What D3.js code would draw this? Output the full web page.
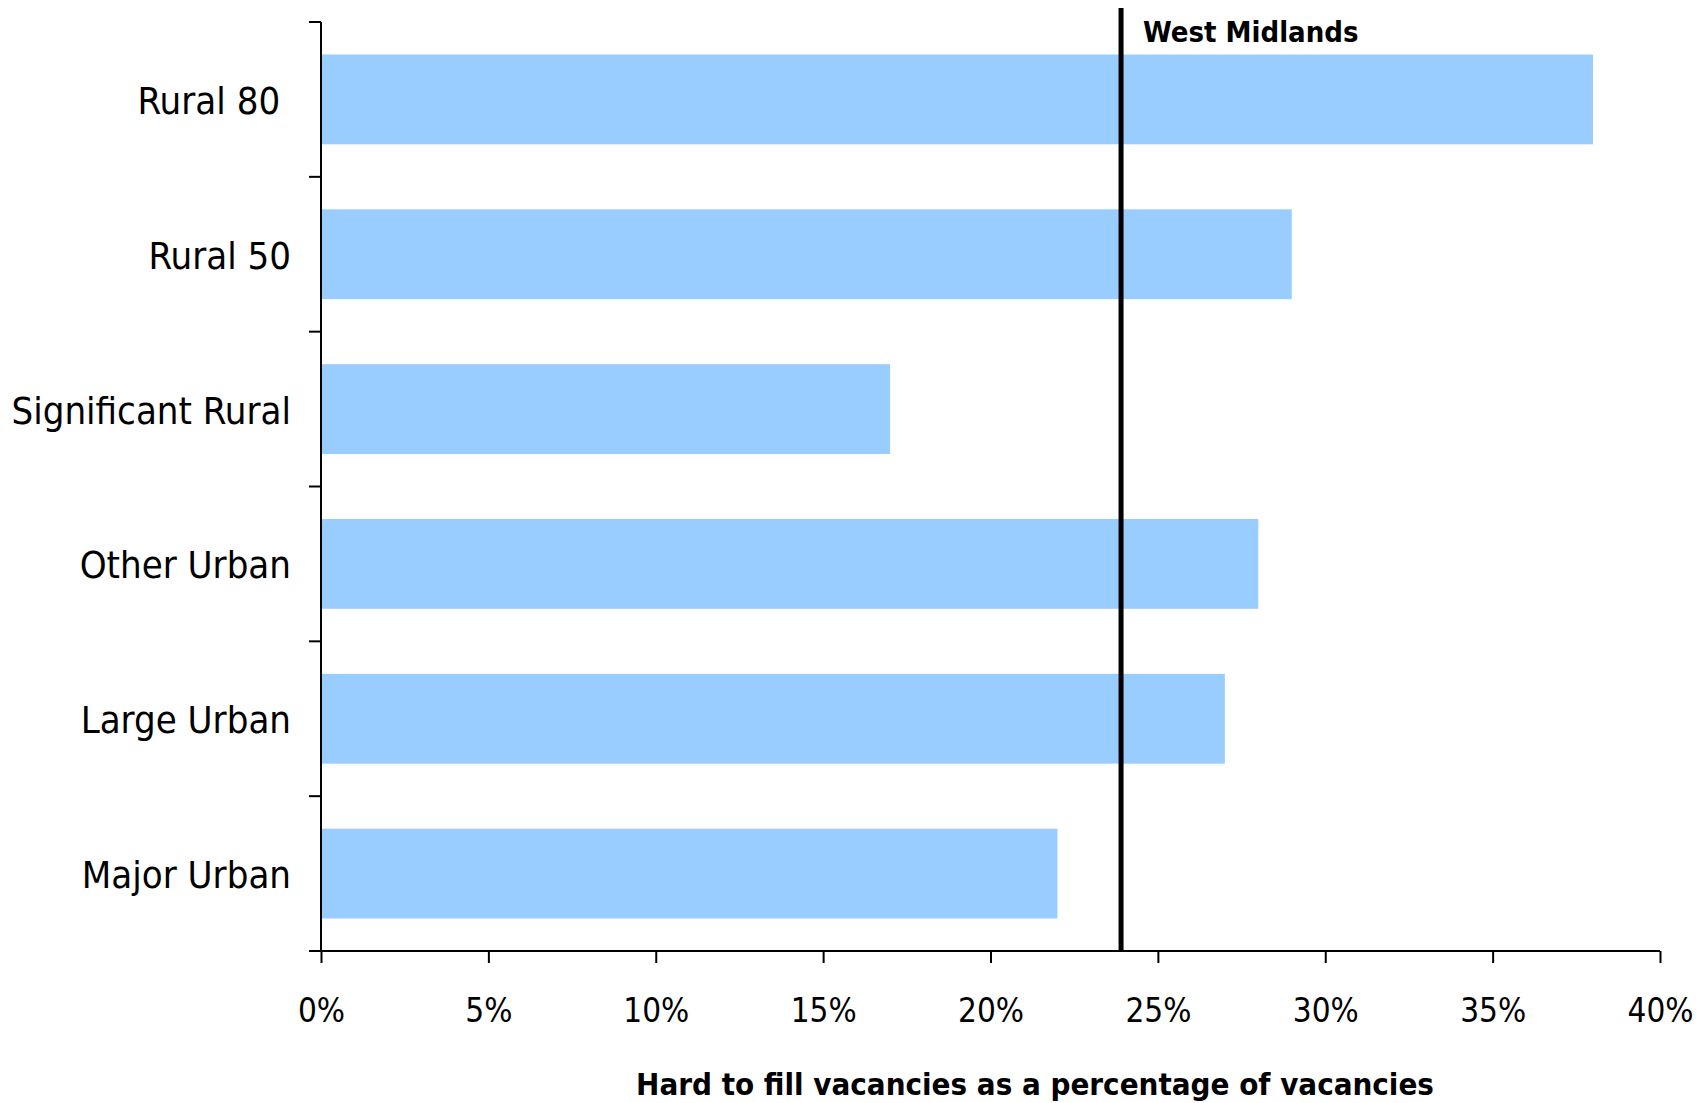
<!DOCTYPE html>
<html><head><meta charset="utf-8">
<script src="https://cdn.jsdelivr.net/npm/d3@7"></script>
<style>
body{margin:0;background:#fff;}
svg{display:block;font-family:"DejaVu Sans Condensed","DejaVu Sans",sans-serif;}
</style></head>
<body>
<svg id="chart" width="1708" height="1103"></svg>
<script>
const categories = ["Rural 80", "Rural 50", "Significant Rural", "Other Urban", "Large Urban", "Major Urban"];
const values = [38, 29, 17, 28, 27, 22];
const referenceLabel = "West Midlands";
const referenceValue = 23.9;
const xTicks = [0, 5, 10, 15, 20, 25, 30, 35, 40];
const xTitle = "Hard to fill vacancies as a percentage of vacancies";

(function () {
const svg = d3.select("#chart");
const mLeft = 321, mRight = 1660, mTop = 22, mBottom = 951;

const x = d3.scaleLinear().domain([0, 40]).range([mLeft, mRight]);
const y = d3.scaleBand().domain(categories).range([mTop, mBottom]).paddingInner(0.42).paddingOuter(0.21);
const step = y.step();

svg.selectAll("rect.bar").data(categories).join("rect")
  .attr("class", "bar")
  .attr("x", x(0))
  .attr("y", d => y(d))
  .attr("width", (d, i) => x(values[i]) - x(0))
  .attr("height", y.bandwidth())
  .attr("fill", "#99CCFF");

// x axis
const xAxis = d3.axisBottom(x).tickValues(xTicks).tickFormat(d => d + "%").tickSize(12).tickPadding(36);
const gx = svg.append("g").attr("transform", `translate(0,${mBottom})`).call(xAxis);
gx.select(".domain").attr("d", `M${mLeft - 12},0H${mRight}`).attr("stroke", "#000").attr("stroke-width", 2);
gx.selectAll(".tick line").attr("stroke", "#000").attr("stroke-width", 2);
gx.selectAll(".tick text").attr("font-size", 33).attr("fill", "#000")
  .attr("font-family", "'DejaVu Sans Condensed','DejaVu Sans',sans-serif");

// y axis
const boundaries = d3.range(categories.length + 1).map(i => mTop + i * step);
const gy = svg.append("g");
gy.append("line").attr("x1", mLeft).attr("x2", mLeft).attr("y1", mTop).attr("y2", mBottom)
  .attr("stroke", "#000").attr("stroke-width", 2);
gy.selectAll("line.tk").data(boundaries).join("line").attr("class", "tk")
  .attr("x1", mLeft - 12).attr("x2", mLeft).attr("y1", d => d).attr("y2", d => d)
  .attr("stroke", "#000").attr("stroke-width", 2);
gy.selectAll("text").data(categories).join("text")
  .attr("x", mLeft - 30)
  .attr("y", d => y(d) + y.bandwidth() / 2)
  .attr("dy", "0.38em")
  .attr("text-anchor", "end")
  .attr("font-size", 38)
  .style("white-space", "pre")
  .text(d => d === "Rural 80" ? d + " " : d);

// reference line
svg.append("line")
  .attr("x1", x(referenceValue)).attr("x2", x(referenceValue))
  .attr("y1", 8).attr("y2", mBottom)
  .attr("stroke", "#000").attr("stroke-width", 5);
svg.append("text")
  .attr("x", x(referenceValue) + 22).attr("y", 42)
  .attr("font-size", 29).attr("font-weight", "bold")
  .text(referenceLabel);

// x title
svg.append("text")
  .attr("x", 1035).attr("y", 1095)
  .attr("text-anchor", "middle")
  .attr("font-size", 31).attr("font-weight", "bold")
  .text(xTitle);
})();
</script>
</body></html>
